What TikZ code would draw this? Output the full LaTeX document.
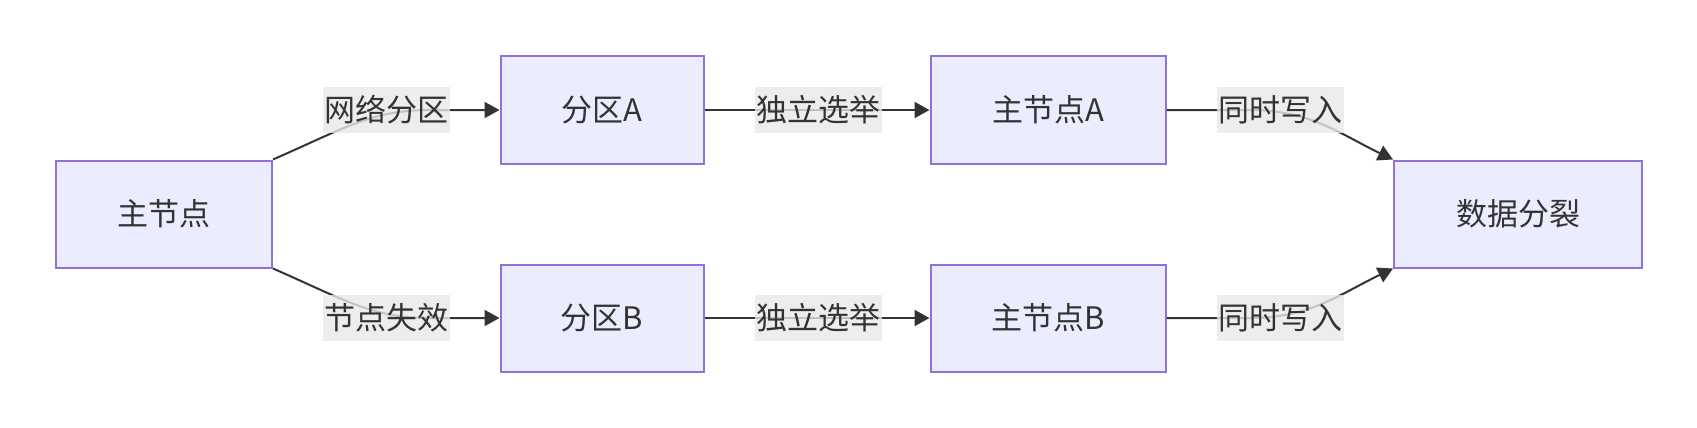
\documentclass[tikz,border=0pt]{standalone}
\usepackage{fontspec}
\setmainfont{Noto Sans CJK SC}
\usetikzlibrary{arrows.meta}
\definecolor{boxfill}{HTML}{ECECFF}
\definecolor{boxline}{HTML}{9370DB}
\definecolor{edgecol}{HTML}{333333}
\definecolor{lblbg}{HTML}{E8E8E8}
\begin{document}
\begin{tikzpicture}[x=1pt,y=-1pt,
  box/.style={draw=boxline, fill=boxfill, line width=2pt, minimum height=107pt, inner sep=0pt,
    font=\fontsize{31}{36}\selectfont, text=edgecol},
  lbl/.style={fill=lblbg, fill opacity=0.8, text opacity=1, minimum height=46pt, inner xsep=1.5pt,
    inner ysep=0pt, font=\fontsize{31}{36}\selectfont, text=edgecol},
  conn/.style={draw=edgecol, line width=2pt, -{Triangle[length=15pt,width=16pt]}}]
\useasboundingbox (0,0) rectangle (1697,428);
\node[box, minimum width=216pt] (main) at (164,214) {主节点};
\node[box, minimum width=203pt] (pA) at (602,110) {分区A};
\node[box, minimum width=203pt] (pB) at (602,318) {分区B};
\node[box, minimum width=235pt] (mA) at (1048,110) {主节点A};
\node[box, minimum width=235pt] (mB) at (1048,318) {主节点B};
\node[box, minimum width=248pt] (split) at (1518,214) {数据分裂};

\draw[conn] (main.north east) .. controls (345,128) and (372,110) .. (430,110) -- (pA.west);
\draw[conn] (main.south east) .. controls (345,300) and (372,318) .. (430,318) -- (pB.west);
\draw[conn] (pA.east) -- (mA.west);
\draw[conn] (pB.east) -- (mB.west);
\draw[conn] (mA.east) -- (1250,110) .. controls (1310,110) and (1340,134) .. (split.north west);
\draw[conn] (mB.east) -- (1250,318) .. controls (1310,318) and (1340,294) .. (split.south west);

\node[lbl] (l1) at (386,110) {网络分区};
\node[lbl] (l2) at (386,318) {节点失效};
\node[lbl] (l3) at (818,110) {独立选举};
\node[lbl] (l4) at (818,318) {独立选举};
\node[lbl] (l5) at (1280,110) {同时写入};
\node[lbl] (l6) at (1280,318) {同时写入};
\end{tikzpicture}
\end{document}
